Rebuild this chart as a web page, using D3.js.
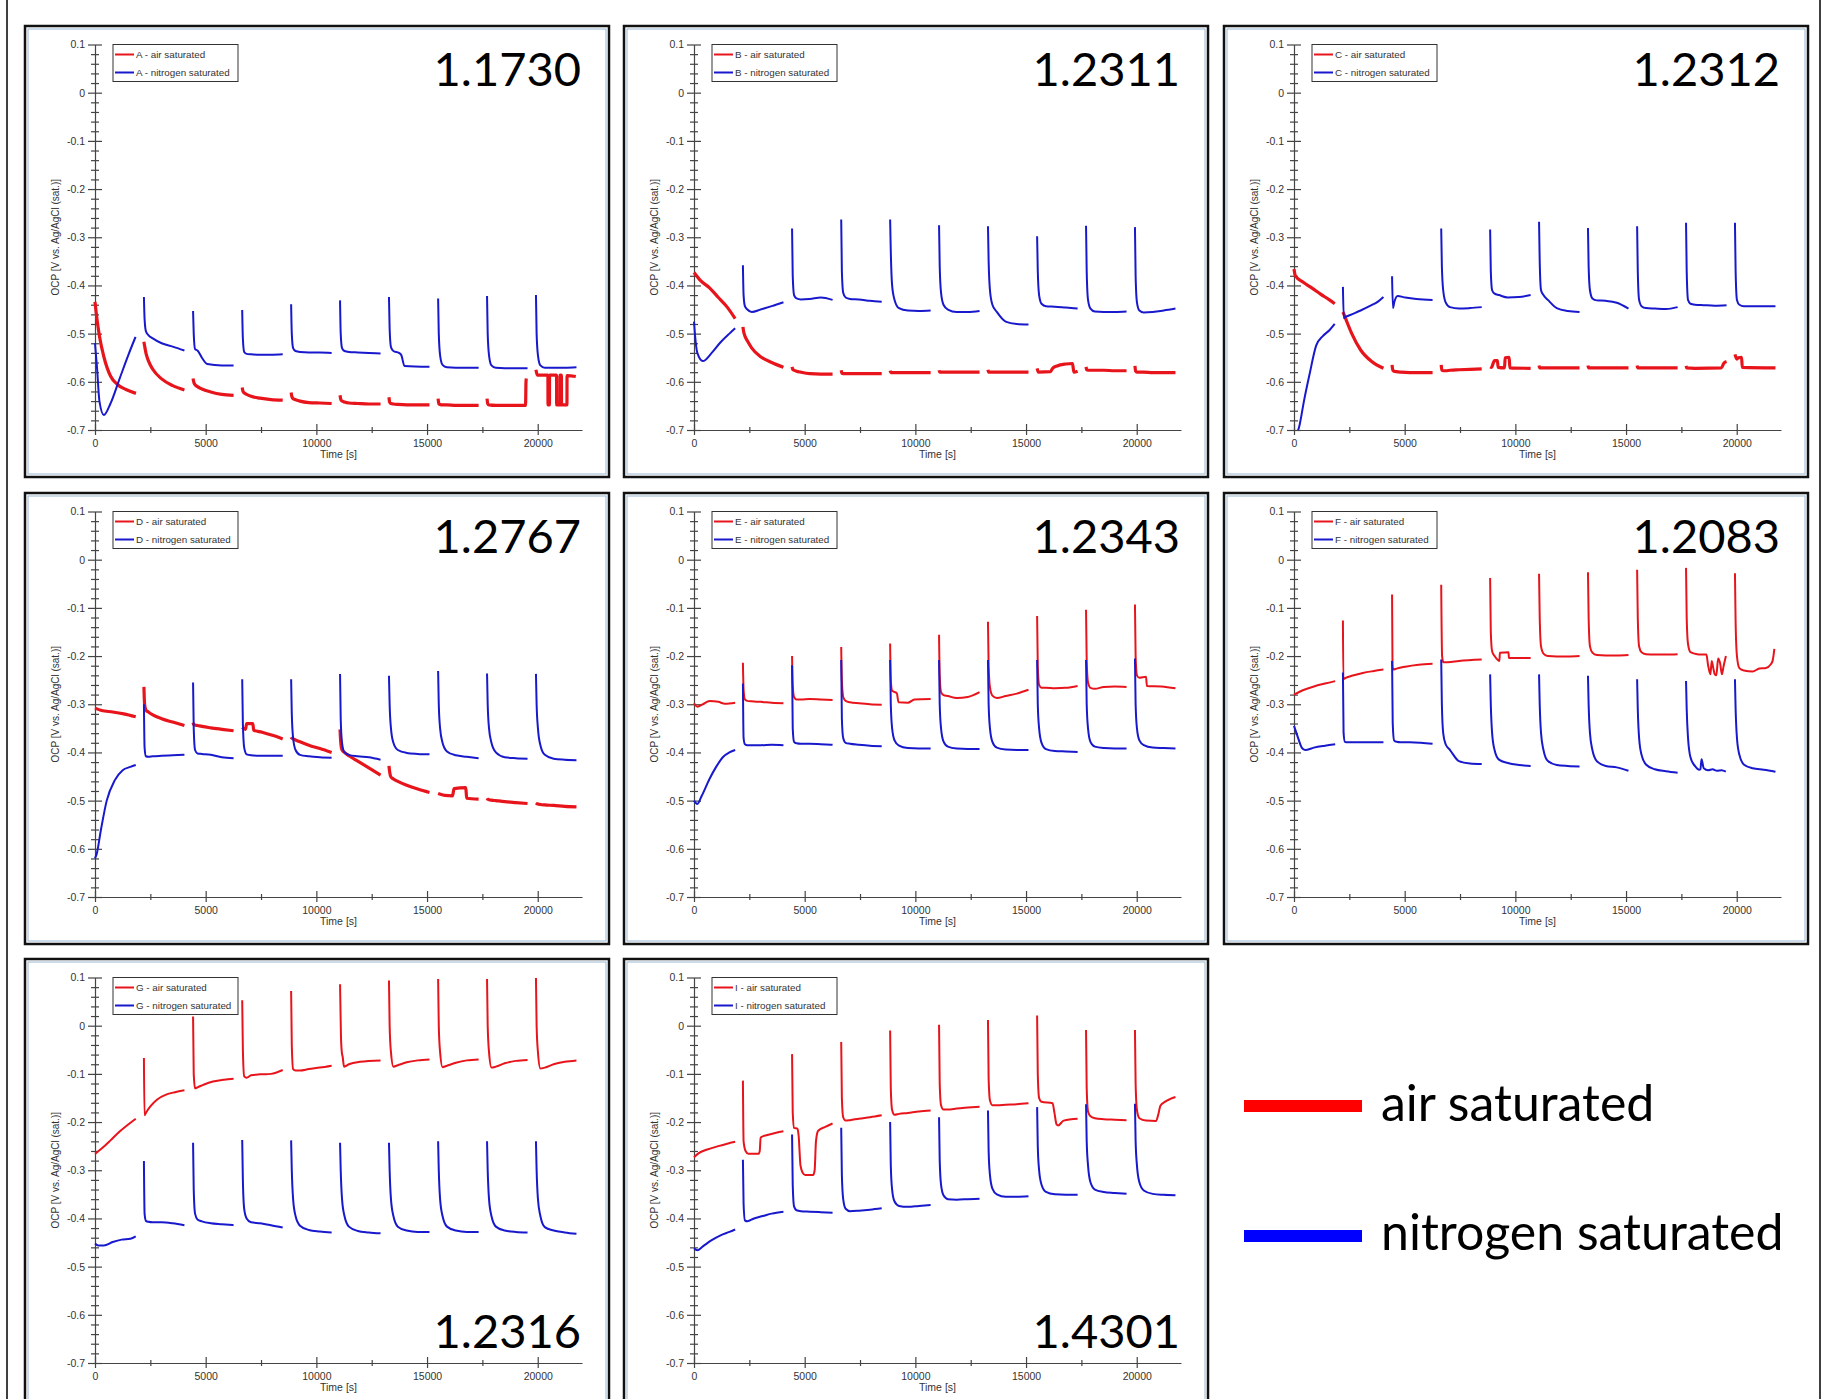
<!DOCTYPE html>
<html>
<head>
<meta charset="utf-8">
<script src="https://cdn.jsdelivr.net/npm/d3@7"></script>
<style>
  body { margin: 0; background: #fff; }
  svg text { font-family: "Liberation Sans", Arial, sans-serif; }
  .big { font-family: Lato, "Noto Sans", sans-serif !important; }
</style>
</head>
<body>
<script>
// start time of every measuring segment [s]
var segStart = [0, 2210, 4430, 6650, 8860, 11070, 13280, 15500, 17710, 19920];
// time offsets inside a segment at which plain value rows were read
var offs = [0, 30, 90, 200, 400, 800, 1300, 1830];

var xTicks = [0, 5000, 10000, 15000, 20000];
var xMinor = [2500, 7500, 12500, 17500];
var yTicks = [0.1, 0, -0.1, -0.2, -0.3, -0.4, -0.5, -0.6, -0.7];

var panelIds = ["A", "B", "C", "D", "E", "F", "G", "I"];
var panelNums = ["1.1730", "1.2311", "1.2312", "1.2767", "1.2343", "1.2083", "1.2316", "1.4301"];

// each segment: either values at offs, or [dt, value] pairs
var airA = [
  [[0,-0.434],[90,-0.47],[200,-0.505],[400,-0.548],[700,-0.588],[1000,-0.605],[1400,-0.616],[1850,-0.624]],
  [-0.517,-0.525,-0.54,-0.556,-0.574,-0.594,-0.608,-0.617],
  [-0.593,-0.600,-0.606,-0.61,-0.615,-0.621,-0.626,-0.628],
  [-0.612,-0.619,-0.623,-0.626,-0.63,-0.634,-0.637,-0.638],
  [-0.622,-0.63,-0.635,-0.637,-0.64,-0.643,-0.644,-0.645],
  [-0.628,-0.636,-0.64,-0.642,-0.644,-0.645,-0.646,-0.646],
  [-0.632,-0.642,-0.645,-0.646,-0.647,-0.648,-0.648,-0.648],
  [-0.635,-0.645,-0.647,-0.648,-0.648,-0.649,-0.649,-0.649],
  [[0,-0.635],[30,-0.645],[90,-0.648],[400,-0.649],[1000,-0.649],[1740,-0.649],[1760,-0.6],[1775,-0.593]],
  [[0,-0.575],[60,-0.586],[540,-0.586],[545,-0.648],[610,-0.648],[615,-0.586],[930,-0.586],[935,-0.648],[1080,-0.648],[1085,-0.586],[1150,-0.586],[1155,-0.648],[1400,-0.648],[1405,-0.587],[1800,-0.589]]
];
var n2A = [
  [[0,-0.52],[90,-0.57],[200,-0.64],[400,-0.669],[700,-0.645],[1100,-0.595],[1500,-0.545],[1830,-0.507]],
  [-0.424,-0.47,-0.495,-0.503,-0.51,-0.52,-0.527,-0.535],
  [[0,-0.453],[30,-0.50],[90,-0.532],[200,-0.535],[400,-0.55],[640,-0.563],[1300,-0.566],[1830,-0.566]],
  [-0.451,-0.51,-0.538,-0.542,-0.543,-0.544,-0.544,-0.543],
  [-0.439,-0.50,-0.53,-0.536,-0.538,-0.539,-0.539,-0.54],
  [-0.431,-0.50,-0.53,-0.536,-0.538,-0.539,-0.54,-0.541],
  [[0,-0.424],[30,-0.49],[90,-0.528],[200,-0.536],[450,-0.54],[560,-0.545],[700,-0.567],[1830,-0.569]],
  [-0.427,-0.50,-0.545,-0.565,-0.57,-0.571,-0.571,-0.571],
  [-0.422,-0.50,-0.545,-0.566,-0.571,-0.572,-0.572,-0.572],
  [-0.42,-0.50,-0.545,-0.566,-0.571,-0.571,-0.571,-0.570]
];
var airB = [
  [[0,-0.373],[300,-0.39],[700,-0.405],[1100,-0.425],[1500,-0.445],[1860,-0.469]],
  [-0.486,-0.495,-0.505,-0.515,-0.53,-0.548,-0.56,-0.57],
  [-0.569,-0.574,-0.576,-0.578,-0.58,-0.583,-0.584,-0.584],
  [-0.576,-0.582,-0.583,-0.583,-0.583,-0.583,-0.583,-0.583],
  [-0.577,-0.581,-0.581,-0.581,-0.581,-0.581,-0.581,-0.581],
  [-0.576,-0.58,-0.58,-0.58,-0.58,-0.58,-0.58,-0.58],
  [-0.575,-0.58,-0.58,-0.58,-0.58,-0.58,-0.58,-0.58],
  [[0,-0.572],[60,-0.58],[600,-0.579],[700,-0.572],[900,-0.567],[1300,-0.563],[1600,-0.562],[1660,-0.58],[1830,-0.578]],
  [-0.569,-0.575,-0.576,-0.576,-0.576,-0.576,-0.577,-0.577],
  [-0.567,-0.578,-0.58,-0.58,-0.58,-0.581,-0.581,-0.581]
];
var n2B = [
  [[0,-0.475],[60,-0.51],[150,-0.54],[400,-0.557],[800,-0.54],[1200,-0.518],[1600,-0.5],[1860,-0.489]],
  [-0.358,-0.42,-0.443,-0.45,-0.455,-0.45,-0.443,-0.435],
  [-0.282,-0.38,-0.42,-0.427,-0.429,-0.428,-0.425,-0.43],
  [-0.263,-0.37,-0.415,-0.425,-0.428,-0.429,-0.432,-0.434],
  [-0.263,-0.33,-0.40,-0.43,-0.447,-0.452,-0.453,-0.452],
  [-0.275,-0.36,-0.415,-0.44,-0.45,-0.455,-0.455,-0.453],
  [-0.277,-0.35,-0.41,-0.44,-0.455,-0.475,-0.48,-0.481],
  [-0.298,-0.37,-0.42,-0.438,-0.443,-0.444,-0.446,-0.448],
  [-0.276,-0.37,-0.43,-0.448,-0.454,-0.455,-0.455,-0.454],
  [-0.279,-0.38,-0.435,-0.452,-0.456,-0.455,-0.452,-0.448]
];
var airC = [
  [[0,-0.366],[60,-0.38],[400,-0.393],[800,-0.405],[1200,-0.418],[1600,-0.43],[1840,-0.438]],
  [-0.455,-0.458,-0.465,-0.478,-0.50,-0.534,-0.558,-0.572],
  [-0.565,-0.575,-0.578,-0.579,-0.58,-0.581,-0.581,-0.581],
  [-0.565,-0.576,-0.577,-0.577,-0.576,-0.575,-0.574,-0.573],
  [[0,-0.569],[60,-0.57],[150,-0.56],[200,-0.556],[330,-0.556],[360,-0.57],[650,-0.571],[680,-0.55],[860,-0.549],[890,-0.571],[1830,-0.572]],
  [-0.566,-0.571,-0.571,-0.571,-0.571,-0.571,-0.571,-0.571],
  [-0.566,-0.571,-0.571,-0.571,-0.571,-0.571,-0.571,-0.571],
  [-0.566,-0.571,-0.571,-0.571,-0.571,-0.571,-0.571,-0.571],
  [[0,-0.567],[30,-0.571],[400,-0.572],[1600,-0.571],[1700,-0.562],[1830,-0.558]],
  [[0,-0.543],[90,-0.553],[150,-0.55],[300,-0.549],[330,-0.57],[1830,-0.571]]
];
var n2C = [
  [[0,-0.72],[250,-0.69],[450,-0.64],[700,-0.585],[1000,-0.525],[1300,-0.505],[1600,-0.493],[1840,-0.48]],
  [[0,-0.403],[40,-0.468],[100,-0.466],[400,-0.46],[800,-0.452],[1200,-0.443],[1600,-0.433],[1830,-0.424]],
  [[0,-0.381],[40,-0.447],[100,-0.435],[250,-0.422],[600,-0.425],[1100,-0.428],[1830,-0.43]],
  [-0.282,-0.36,-0.41,-0.435,-0.445,-0.448,-0.447,-0.445],
  [-0.284,-0.37,-0.41,-0.417,-0.42,-0.425,-0.424,-0.42],
  [-0.268,-0.35,-0.41,-0.42,-0.43,-0.447,-0.453,-0.455],
  [-0.281,-0.36,-0.41,-0.427,-0.431,-0.432,-0.436,-0.448],
  [-0.277,-0.37,-0.43,-0.443,-0.447,-0.448,-0.449,-0.445],
  [-0.27,-0.37,-0.43,-0.438,-0.44,-0.441,-0.442,-0.441],
  [-0.27,-0.37,-0.43,-0.44,-0.443,-0.443,-0.443,-0.443]
];
var airD = [
  [[0,-0.308],[300,-0.313],[800,-0.316],[1300,-0.32],[1840,-0.326]],
  [-0.264,-0.30,-0.312,-0.316,-0.322,-0.330,-0.337,-0.344],
  [-0.338,-0.342,-0.343,-0.344,-0.346,-0.349,-0.352,-0.355],
  [[0,-0.348],[150,-0.352],[200,-0.34],[480,-0.34],[520,-0.354],[900,-0.358],[1400,-0.365],[1830,-0.372]],
  [-0.368,-0.37,-0.372,-0.374,-0.378,-0.385,-0.392,-0.400],
  [[0,-0.352],[30,-0.378],[90,-0.395],[200,-0.40],[400,-0.407],[800,-0.418],[1300,-0.432],[1830,-0.447]],
  [-0.428,-0.44,-0.451,-0.455,-0.46,-0.468,-0.476,-0.483],
  [[0,-0.485],[300,-0.489],[650,-0.49],[720,-0.475],[1250,-0.473],[1290,-0.495],[1830,-0.497]],
  [-0.495,-0.497,-0.498,-0.499,-0.5,-0.502,-0.504,-0.506],
  [-0.505,-0.506,-0.507,-0.508,-0.509,-0.51,-0.512,-0.513]
];
var n2D = [
  [[0,-0.62],[80,-0.61],[270,-0.56],[530,-0.5],[890,-0.458],[1250,-0.437],[1600,-0.43],[1840,-0.426]],
  [-0.30,-0.39,-0.408,-0.409,-0.408,-0.407,-0.406,-0.405],
  [-0.255,-0.35,-0.395,-0.402,-0.403,-0.405,-0.41,-0.412],
  [-0.248,-0.34,-0.39,-0.404,-0.406,-0.407,-0.407,-0.407],
  [-0.248,-0.32,-0.37,-0.395,-0.405,-0.408,-0.41,-0.411],
  [-0.237,-0.33,-0.38,-0.4,-0.405,-0.408,-0.41,-0.415],
  [-0.241,-0.30,-0.35,-0.38,-0.395,-0.401,-0.403,-0.404],
  [-0.231,-0.30,-0.35,-0.38,-0.398,-0.406,-0.409,-0.412],
  [-0.236,-0.30,-0.35,-0.38,-0.40,-0.41,-0.412,-0.413],
  [-0.237,-0.30,-0.35,-0.385,-0.405,-0.413,-0.415,-0.416]
];
var airE = [
  [[0,-0.298],[150,-0.305],[400,-0.3],[700,-0.293],[1100,-0.295],[1400,-0.299],[1860,-0.297]],
  [-0.214,-0.27,-0.29,-0.293,-0.294,-0.295,-0.297,-0.298],
  [-0.2,-0.26,-0.285,-0.29,-0.29,-0.289,-0.29,-0.291],
  [-0.181,-0.25,-0.285,-0.293,-0.296,-0.298,-0.3,-0.301],
  [[0,-0.174],[30,-0.25],[90,-0.272],[300,-0.277],[380,-0.296],[800,-0.297],[1100,-0.29],[1830,-0.289]],
  [-0.156,-0.24,-0.275,-0.281,-0.283,-0.287,-0.285,-0.275],
  [-0.129,-0.22,-0.265,-0.282,-0.287,-0.283,-0.278,-0.27],
  [-0.117,-0.22,-0.26,-0.266,-0.266,-0.267,-0.266,-0.262],
  [-0.104,-0.21,-0.255,-0.266,-0.268,-0.264,-0.263,-0.264],
  [[0,-0.093],[30,-0.2],[90,-0.24],[200,-0.245],[500,-0.243],[540,-0.262],[1200,-0.263],[1830,-0.267]]
];
var n2E = [
  [[0,-0.5],[150,-0.507],[350,-0.49],[700,-0.455],[1000,-0.43],[1300,-0.41],[1600,-0.4],[1860,-0.395]],
  [-0.257,-0.37,-0.383,-0.385,-0.385,-0.385,-0.384,-0.385],
  [-0.219,-0.35,-0.378,-0.381,-0.382,-0.382,-0.383,-0.384],
  [-0.208,-0.33,-0.37,-0.38,-0.382,-0.384,-0.386,-0.387],
  [-0.208,-0.3,-0.35,-0.375,-0.386,-0.391,-0.392,-0.392],
  [-0.208,-0.3,-0.35,-0.377,-0.388,-0.392,-0.393,-0.393],
  [-0.208,-0.3,-0.35,-0.378,-0.39,-0.394,-0.395,-0.395],
  [-0.208,-0.3,-0.35,-0.38,-0.393,-0.397,-0.398,-0.399],
  [-0.208,-0.3,-0.35,-0.378,-0.388,-0.391,-0.392,-0.392],
  [-0.205,-0.3,-0.35,-0.375,-0.385,-0.39,-0.391,-0.392]
];
var airF = [
  [[0,-0.28],[400,-0.271],[900,-0.263],[1400,-0.257],[1860,-0.252]],
  [[0,-0.126],[20,-0.248],[100,-0.246],[400,-0.241],[900,-0.235],[1400,-0.231],[1830,-0.228]],
  [[0,-0.072],[20,-0.22],[60,-0.228],[200,-0.226],[600,-0.222],[1200,-0.218],[1830,-0.216]],
  [[0,-0.052],[40,-0.2],[100,-0.213],[300,-0.213],[800,-0.21],[1830,-0.207]],
  [[0,-0.038],[30,-0.15],[90,-0.19],[200,-0.2],[350,-0.208],[420,-0.21],[440,-0.193],[830,-0.192],[850,-0.204],[1830,-0.204]],
  [-0.029,-0.12,-0.18,-0.195,-0.2,-0.201,-0.201,-0.2],
  [-0.026,-0.12,-0.18,-0.193,-0.198,-0.199,-0.199,-0.198],
  [-0.021,-0.12,-0.18,-0.192,-0.196,-0.197,-0.197,-0.196],
  [[0,-0.017],[30,-0.12],[90,-0.175],[200,-0.192],[500,-0.196],[920,-0.197],[1000,-0.22],[1100,-0.238],[1160,-0.21],[1230,-0.225],[1300,-0.238],[1370,-0.24],[1450,-0.205],[1540,-0.215],[1620,-0.238],[1700,-0.22],[1800,-0.2]],
  [[0,-0.028],[30,-0.13],[90,-0.2],[200,-0.225],[400,-0.23],[800,-0.232],[1100,-0.226],[1400,-0.225],[1600,-0.218],[1700,-0.21],[1780,-0.185]]
];
var n2F = [
  [[0,-0.345],[150,-0.365],[350,-0.39],[500,-0.395],[900,-0.39],[1400,-0.386],[1860,-0.383]],
  [-0.234,-0.36,-0.378,-0.379,-0.379,-0.379,-0.379,-0.379],
  [-0.21,-0.34,-0.375,-0.378,-0.379,-0.379,-0.38,-0.382],
  [-0.207,-0.30,-0.36,-0.383,-0.395,-0.418,-0.423,-0.424],
  [-0.238,-0.30,-0.36,-0.395,-0.415,-0.422,-0.426,-0.428],
  [-0.238,-0.30,-0.36,-0.395,-0.418,-0.426,-0.428,-0.429],
  [-0.241,-0.30,-0.36,-0.395,-0.418,-0.428,-0.431,-0.438],
  [-0.248,-0.31,-0.37,-0.405,-0.425,-0.435,-0.439,-0.442],
  [[0,-0.252],[30,-0.31],[90,-0.37],[200,-0.41],[400,-0.428],[600,-0.436],[650,-0.435],[700,-0.414],[800,-0.433],[1000,-0.437],[1200,-0.435],[1400,-0.438],[1600,-0.437],[1800,-0.44]],
  [-0.248,-0.31,-0.37,-0.405,-0.425,-0.433,-0.436,-0.44]
];
var airG = [
  [[0,-0.266],[300,-0.255],[700,-0.238],[1100,-0.22],[1500,-0.205],[1840,-0.193]],
  [[0,-0.067],[25,-0.186],[100,-0.18],[300,-0.167],[600,-0.153],[1000,-0.143],[1400,-0.138],[1830,-0.134]],
  [[0,0.019],[30,-0.1],[90,-0.13],[200,-0.128],[500,-0.122],[900,-0.116],[1400,-0.112],[1830,-0.11]],
  [0.053,-0.05,-0.105,-0.108,-0.103,-0.101,-0.1,-0.092],
  [0.072,-0.04,-0.09,-0.093,-0.093,-0.09,-0.087,-0.083],
  [[0,0.086],[40,-0.02],[80,-0.055],[120,-0.065],[180,-0.085],[400,-0.08],[900,-0.075],[1830,-0.072]],
  [0.094,0.0,-0.055,-0.085,-0.082,-0.076,-0.072,-0.07],
  [0.097,0.0,-0.055,-0.086,-0.083,-0.077,-0.072,-0.07],
  [0.097,0.0,-0.055,-0.087,-0.085,-0.078,-0.073,-0.071],
  [0.099,0.0,-0.055,-0.089,-0.087,-0.08,-0.075,-0.072]
];
var n2G = [
  [[0,-0.452],[150,-0.456],[400,-0.456],[800,-0.449],[1200,-0.444],[1600,-0.442],[1840,-0.437]],
  [-0.281,-0.39,-0.405,-0.407,-0.408,-0.408,-0.41,-0.414],
  [-0.243,-0.34,-0.39,-0.402,-0.406,-0.41,-0.412,-0.414],
  [-0.237,-0.32,-0.38,-0.4,-0.408,-0.41,-0.414,-0.419],
  [-0.238,-0.30,-0.36,-0.395,-0.415,-0.424,-0.427,-0.429],
  [-0.243,-0.30,-0.36,-0.395,-0.417,-0.426,-0.429,-0.431],
  [-0.243,-0.30,-0.36,-0.395,-0.417,-0.425,-0.428,-0.428],
  [-0.24,-0.30,-0.36,-0.395,-0.417,-0.425,-0.428,-0.428],
  [-0.24,-0.30,-0.36,-0.395,-0.417,-0.425,-0.428,-0.429],
  [-0.24,-0.30,-0.36,-0.395,-0.418,-0.425,-0.429,-0.432]
];
var airI = [
  [[0,-0.273],[200,-0.265],[600,-0.257],[1100,-0.25],[1500,-0.245],[1860,-0.241]],
  [[0,-0.114],[30,-0.24],[120,-0.26],[250,-0.266],[700,-0.266],[760,-0.26],[800,-0.232],[1100,-0.227],[1500,-0.222],[1830,-0.219]],
  [[0,-0.059],[30,-0.18],[90,-0.212],[250,-0.214],[300,-0.23],[380,-0.29],[480,-0.305],[600,-0.31],[950,-0.31],[1020,-0.3],[1080,-0.24],[1180,-0.218],[1500,-0.21],[1830,-0.203]],
  [-0.034,-0.15,-0.19,-0.197,-0.196,-0.193,-0.19,-0.186],
  [-0.01,-0.13,-0.175,-0.185,-0.183,-0.181,-0.178,-0.176],
  [0.002,-0.12,-0.165,-0.174,-0.174,-0.172,-0.17,-0.168],
  [0.012,-0.11,-0.155,-0.165,-0.165,-0.164,-0.163,-0.161],
  [[0,0.021],[30,-0.1],[90,-0.15],[200,-0.158],[700,-0.161],[780,-0.18],[880,-0.205],[950,-0.207],[1200,-0.197],[1830,-0.193]],
  [-0.009,-0.13,-0.178,-0.188,-0.192,-0.194,-0.195,-0.196],
  [[0,-0.009],[30,-0.12],[90,-0.175],[200,-0.192],[500,-0.197],[950,-0.198],[1050,-0.185],[1150,-0.166],[1350,-0.158],[1600,-0.152],[1830,-0.148]]
];
var n2I = [
  [[0,-0.462],[150,-0.466],[400,-0.458],[800,-0.445],[1200,-0.435],[1600,-0.428],[1860,-0.423]],
  [[0,-0.278],[30,-0.37],[90,-0.404],[200,-0.406],[500,-0.4],[900,-0.395],[1300,-0.39],[1830,-0.386]],
  [-0.226,-0.33,-0.375,-0.383,-0.385,-0.386,-0.387,-0.388],
  [-0.212,-0.31,-0.36,-0.38,-0.385,-0.384,-0.382,-0.379],
  [-0.2,-0.29,-0.34,-0.365,-0.374,-0.376,-0.374,-0.372],
  [-0.19,-0.28,-0.33,-0.352,-0.36,-0.361,-0.36,-0.359],
  [-0.176,-0.26,-0.31,-0.338,-0.35,-0.355,-0.355,-0.354],
  [-0.169,-0.25,-0.30,-0.33,-0.345,-0.35,-0.351,-0.351],
  [-0.163,-0.24,-0.29,-0.325,-0.34,-0.345,-0.347,-0.349],
  [-0.162,-0.24,-0.29,-0.325,-0.342,-0.349,-0.351,-0.352]
];

var airSets = [airA, airB, airC, airD, airE, airF, airG, airI];
var n2Sets = [n2A, n2B, n2C, n2D, n2E, n2F, n2G, n2I];
var noisyAir = ["A", "B", "C", "D"];   // these red traces are drawn fatter (noisy signal)
var numAtBottom = ["G", "I"];

var RED = "#e8141b", BLUE = "#1818cc";

// page layout
var width = 1828, height = 1399;
var colX = [25, 624, 1224], rowY = [26, 493, 959];
var boxW = 584, boxH = 451;

var svg = d3.select("body").append("svg")
  .attr("width", width)
  .attr("height", height);

// side rules of the figure
svg.append("line").attr("x1", 7).attr("x2", 7).attr("y1", 0).attr("y2", height)
  .attr("stroke", "#000").attr("stroke-width", 1.5);
svg.append("line").attr("x1", 1820).attr("x2", 1820).attr("y1", 0).attr("y2", height)
  .attr("stroke", "#000").attr("stroke-width", 1.5);

// scales are the same for every panel (panel-local coords)
var x = d3.scaleLinear().domain([0, 22000]).range([70, 557]);
var y = d3.scaleLinear().domain([-0.7, 0.1]).range([404, 18.5]);

var line = d3.line()
  .x(function(d) { return x(d[0]); })
  .y(function(d) { return y(d[1]); })
  .curve(d3.curveMonotoneX);

// turn one segment of a series into absolute [t, v] points
function segPoints(seg, j) {
  if (typeof seg[0] === "number") {
    return seg.map(function(v, k) { return [segStart[j] + offs[k], v]; });
  }
  return seg.map(function(p) { return [segStart[j] + p[0], p[1]]; });
}

// minor y ticks every 0.02
var yMinor = d3.range(-35, 6).filter(function(d) { return d % 5 !== 0; })
  .map(function(d) { return d / 50; });

panelIds.forEach(function(id, i) {
  var g = svg.append("g")
    .attr("transform", "translate(" + colX[i % 3] + "," + rowY[Math.floor(i / 3)] + ")");

  // frame: black outer, thin bluish inner
  g.append("rect").attr("x", 0).attr("y", 0).attr("width", boxW).attr("height", boxH)
    .attr("fill", "#fff").attr("stroke", "#111").attr("stroke-width", 2.5);
  g.append("rect").attr("x", 3).attr("y", 3).attr("width", boxW - 6).attr("height", boxH - 6)
    .attr("fill", "none").attr("stroke", "#a9c3da").attr("stroke-width", 1.2);

  g.append("clipPath").attr("id", "clip" + id)
    .append("rect").attr("x", x(0) - 2).attr("y", y(0.1))
    .attr("width", x(22000) - x(0) + 2).attr("height", y(-0.7) - y(0.1));

  // y axis: major + minor ticks crossing the line
  var yAx = g.append("g").attr("transform", "translate(" + x(0) + ",0)")
    .call(d3.axisLeft(y).tickValues(yTicks).tickSize(7).tickSizeOuter(0).tickPadding(3)
      .tickFormat(function(d) { return d === 0 ? "0" : d.toFixed(1); }));
  yAx.selectAll(".tick line").attr("x2", -7).attr("x1", 7);
  var yMin = g.append("g").attr("transform", "translate(" + x(0) + ",0)")
    .call(d3.axisLeft(y).tickValues(yMinor).tickSize(4).tickFormat(""));
  yMin.selectAll(".tick line").attr("x1", 4);
  yMin.select(".domain").remove();

  // x axis
  var xAx = g.append("g").attr("transform", "translate(0," + y(-0.7) + ")")
    .call(d3.axisBottom(x).tickValues(xTicks).tickSize(5).tickSizeOuter(0).tickPadding(5)
      .tickFormat(d3.format("d")));
  xAx.selectAll(".tick line").attr("y1", -6);
  var xMin = g.append("g").attr("transform", "translate(0," + y(-0.7) + ")")
    .call(d3.axisBottom(x).tickValues(xMinor).tickSize(3).tickFormat(""));
  xMin.selectAll(".tick line").attr("y1", -3);
  xMin.select(".domain").remove();

  g.selectAll(".domain, .tick line").attr("stroke", "#444").attr("stroke-width", 1.2);
  g.selectAll(".tick text").attr("fill", "#333").style("font-size", "10.5px");

  g.append("text").attr("x", (x(0) + x(22000)) / 2).attr("y", y(-0.7) + 28)
    .attr("text-anchor", "middle").attr("fill", "#333").style("font-size", "10.5px")
    .text("Time [s]");
  g.append("text")
    .attr("transform", "translate(30," + (y(0.1) + y(-0.7)) / 2 + ") rotate(-90)")
    .attr("text-anchor", "middle").attr("dy", "0.35em")
    .attr("fill", "#333").style("font-size", "10px")
    .text("OCP [V vs. Ag/AgCl (sat.)]");

  // data
  var plot = g.append("g").attr("clip-path", "url(#clip" + id + ")");
  var airW = noisyAir.indexOf(id) >= 0 ? 3.2 : 2;
  airSets[i].forEach(function(seg, j) {
    plot.append("path").attr("d", line(segPoints(seg, j)))
      .attr("fill", "none").attr("stroke", RED).attr("stroke-width", airW)
      .attr("stroke-linejoin", "round");
  });
  n2Sets[i].forEach(function(seg, j) {
    plot.append("path").attr("d", line(segPoints(seg, j)))
      .attr("fill", "none").attr("stroke", BLUE).attr("stroke-width", 2)
      .attr("stroke-linejoin", "round");
  });

  // small legend
  var lg = g.append("g").attr("transform", "translate(88,18.5)");
  lg.append("rect").attr("width", 125).attr("height", 37)
    .attr("fill", "#fff").attr("stroke", "#333").attr("stroke-width", 1);
  [[id + " - air saturated", RED], [id + " - nitrogen saturated", BLUE]].forEach(function(e, k) {
    var yy = 10 + k * 18;
    lg.append("line").attr("x1", 2).attr("x2", 21).attr("y1", yy).attr("y2", yy)
      .attr("stroke", e[1]).attr("stroke-width", 2);
    lg.append("text").attr("x", 23).attr("y", yy).attr("dy", "0.35em")
      .attr("fill", "#333").style("font-size", "9.8px").text(e[0]);
  });

  // big number
  g.append("text").attr("class", "big")
    .attr("x", 556).attr("y", numAtBottom.indexOf(id) >= 0 ? 389 : 60)
    .attr("text-anchor", "end").attr("fill", "#000").style("font-size", "47px")
    .text(panelNums[i]);
});

// figure legend, bottom right
var keys = [["air saturated", "#ff0000", 1106, 1121], ["nitrogen saturated", "#0000ff", 1236, 1250]];
keys.forEach(function(k) {
  svg.append("rect").attr("x", 1244).attr("y", k[2] - 6).attr("width", 118).attr("height", 12)
    .attr("fill", k[1]);
  svg.append("text").attr("class", "big").attr("x", 1381).attr("y", k[3])
    .attr("fill", "#000").style("font-size", "50px").text(k[0]);
});
</script>
</body>
</html>
